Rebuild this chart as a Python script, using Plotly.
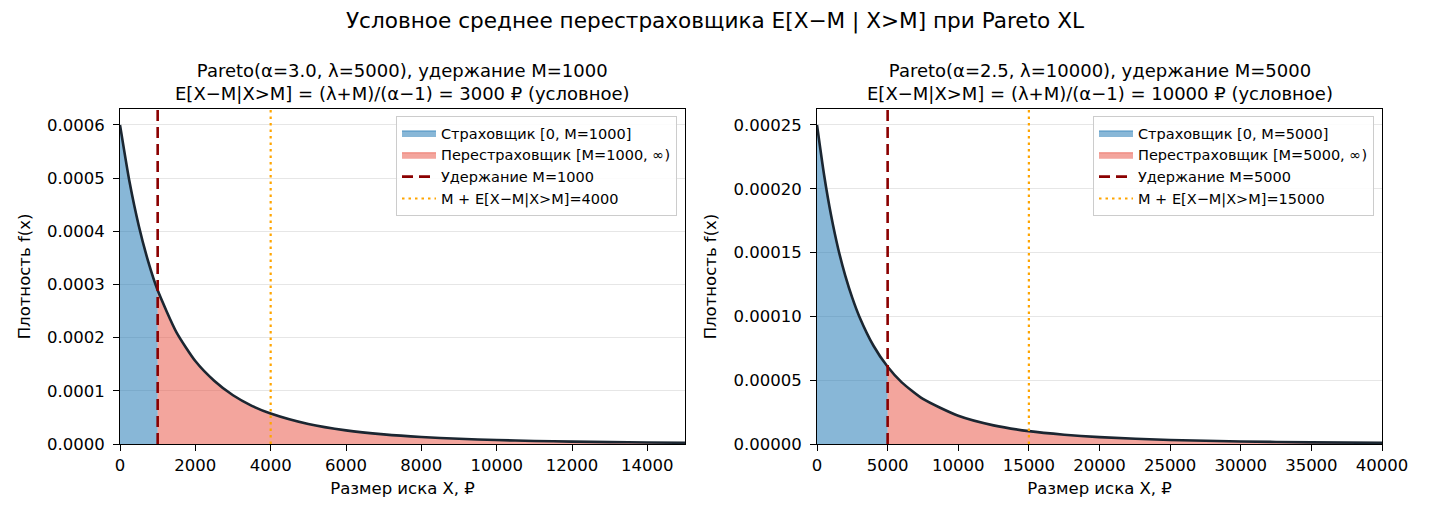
import plotly.graph_objects as go

W, H = 1430, 520

# ---- data ----
left_x = [0, 250, 500, 750, 1000, 1500, 2000, 2500, 3000, 3500, 4000, 5000, 6000,
          7000, 8000, 9000, 10000, 11000, 12000, 13000, 14000, 15000]
left_y = [0.000600, 0.000494, 0.000410, 0.000343, 0.000289, 0.000210, 0.000156,
          0.000119, 0.0000916, 0.0000718, 0.0000572, 0.0000375, 0.0000256,
          0.0000181, 0.0000131, 0.0000098, 0.0000074, 0.0000057, 0.0000045,
          0.0000036, 0.0000029, 0.0000023]
left_M = 1000
left_mean_excess = 3000

right_x = [0, 500, 1000, 1500, 2000, 2500, 3000, 4000, 5000, 6000, 7500, 10000,
           12500, 15000, 17500, 20000, 25000, 30000, 35000, 40000]
right_y = [0.000250, 0.000211, 0.000179, 0.000153, 0.000132, 0.0001145, 0.0000998,
           0.0000770, 0.0000605, 0.0000483, 0.0000353, 0.0000221, 0.0000146,
           0.0000101, 0.0000073, 0.0000054, 0.0000031, 0.0000020, 0.0000013,
           0.0000009]
right_M = 5000
right_mean_excess = 10000

left_xticks = [0, 2000, 4000, 6000, 8000, 10000, 12000, 14000]
right_xticks = [0, 5000, 10000, 15000, 20000, 25000, 30000, 35000, 40000]
left_yticks = [0.0, 0.0001, 0.0002, 0.0003, 0.0004, 0.0005, 0.0006]
right_yticks = [0.0, 0.00005, 0.0001, 0.00015, 0.0002, 0.00025]

left_title = "Pareto(α=3.0, λ=5000), удержание M=1000<br>E[X−M|X>M] = (λ+M)/(α−1) = 3000 ₽ (условное)"
right_title = "Pareto(α=2.5, λ=10000), удержание M=5000<br>E[X−M|X>M] = (λ+M)/(α−1) = 10000 ₽ (условное)"
suptitle = "Условное среднее перестраховщика E[X−M | X>M] при Pareto XL"

FONT = "DejaVu Sans"
BLUE_FILL = "rgba(31,119,180,0.53)"
BLUE_EDGE = "rgba(31,119,180,0.7)"
RED_FILL = "rgba(231,76,60,0.5)"
RED_EDGE = "rgba(231,76,60,0.6)"
CURVE = "#1b2631"
DARKRED = "#8b0000"
ORANGE = "#ffa500"

fig = go.Figure()


def add_panel(xs, ys, M, me, xa, ya, legend_name):
    ymax = max(ys) * 1.05
    bx = [x for x in xs if x <= M]
    by = [y for x, y in zip(xs, ys) if x <= M]
    rx = [x for x in xs if x >= M]
    ry = [y for x, y in zip(xs, ys) if x >= M]
    fig.add_trace(go.Scatter(x=bx, y=by, mode="lines", fill="tozeroy",
                             fillcolor=BLUE_FILL,
                             line=dict(width=1, color=BLUE_EDGE, shape="spline", smoothing=0.6),
                             name=f"Страховщик [0, M={M}]", xaxis=xa, yaxis=ya,
                             legend=legend_name))
    fig.add_trace(go.Scatter(x=rx, y=ry, mode="lines", fill="tozeroy",
                             fillcolor=RED_FILL,
                             line=dict(width=1, color=RED_EDGE, shape="spline", smoothing=0.6),
                             name=f"Перестраховщик [M={M}, ∞)", xaxis=xa, yaxis=ya,
                             legend=legend_name))
    fig.add_trace(go.Scatter(x=xs, y=ys, mode="lines",
                             line=dict(color=CURVE, width=2.6, shape="spline", smoothing=0.6),
                             showlegend=False, xaxis=xa, yaxis=ya, hoverinfo="skip"))
    fig.add_trace(go.Scatter(x=[M, M], y=[0, ymax], mode="lines",
                             line=dict(color=DARKRED, width=2.6, dash="11px,6px"),
                             name=f"Удержание M={M}", xaxis=xa, yaxis=ya,
                             legend=legend_name))
    fig.add_trace(go.Scatter(x=[M + me, M + me], y=[0, ymax], mode="lines",
                             line=dict(color=ORANGE, width=2.2, dash="2.5px,4px"),
                             name=f"M + E[X−M|X>M]={M + me}", xaxis=xa, yaxis=ya,
                             legend=legend_name))
    return ymax


lymax = add_panel(left_x, left_y, left_M, left_mean_excess, "x", "y", "legend")
rymax = add_panel(right_x, right_y, right_M, right_mean_excess, "x2", "y2", "legend2")

y_dom = [76 / H, 411 / H]
axis_common = dict(showline=True, mirror=True, linecolor="black", linewidth=1,
                   ticks="outside", ticklen=6, tickwidth=1, tickcolor="black",
                   zeroline=False, automargin=False,
                   tickfont=dict(family=FONT, size=16.5, color="black"),
                   title_font=dict(family=FONT, size=16.5, color="black"))

legend_common = dict(xanchor="right", yanchor="top",
                     bgcolor="rgba(255,255,255,0.85)", bordercolor="#cccccc", borderwidth=1,
                     font=dict(family=FONT, size=14.5, color="black"), tracegroupgap=0,
                     itemwidth=34)

fig.update_layout(
    width=W, height=H,
    margin=dict(l=0, r=0, t=0, b=0, autoexpand=False),
    paper_bgcolor="white", plot_bgcolor="white",
    font=dict(family=FONT, color="black"),
    title=dict(text=suptitle, x=0.5, xanchor="center", y=1 - 20 / H, yanchor="middle",
               font=dict(family=FONT, size=21.6, color="black")),
    xaxis=dict(domain=[120 / W, 685 / W], range=[0, max(left_x)], tickvals=left_xticks,
               tickformat="d", showgrid=False, anchor="y",
               title=dict(text="Размер иска X, ₽", standoff=8), **axis_common),
    yaxis=dict(domain=y_dom, range=[0, lymax], tickvals=left_yticks, tickformat=".4f",
               showgrid=True, gridcolor="#e6e6e6", gridwidth=1, anchor="x",
               ticklabelstandoff=5,
               title=dict(text="Плотность f(x)", standoff=12), **axis_common),
    xaxis2=dict(domain=[817 / W, 1382 / W], range=[0, max(right_x)], tickvals=right_xticks,
                tickformat="d", showgrid=False, anchor="y2",
                title=dict(text="Размер иска X, ₽", standoff=8), **axis_common),
    yaxis2=dict(domain=y_dom, range=[0, rymax], tickvals=right_yticks, tickformat=".5f",
                showgrid=True, gridcolor="#e6e6e6", gridwidth=1, anchor="x2",
                ticklabelstandoff=5,
                title=dict(text="Плотность f(x)", standoff=12), **axis_common),
    legend=dict(x=677 / W, y=1 - 116 / H, **legend_common),
    legend2=dict(x=1374 / W, y=1 - 116 / H, **legend_common),
    showlegend=True,
)

for txt, xc in [(left_title, (120 + 685) / 2 / W), (right_title, (817 + 1382) / 2 / W)]:
    fig.add_annotation(text=txt, x=xc, y=1 - 106 / H, xref="paper", yref="paper",
                       xanchor="center", yanchor="bottom", showarrow=False,
                       font=dict(family=FONT, size=18, color="black"), align="center")

fig.write_html("out.html")
